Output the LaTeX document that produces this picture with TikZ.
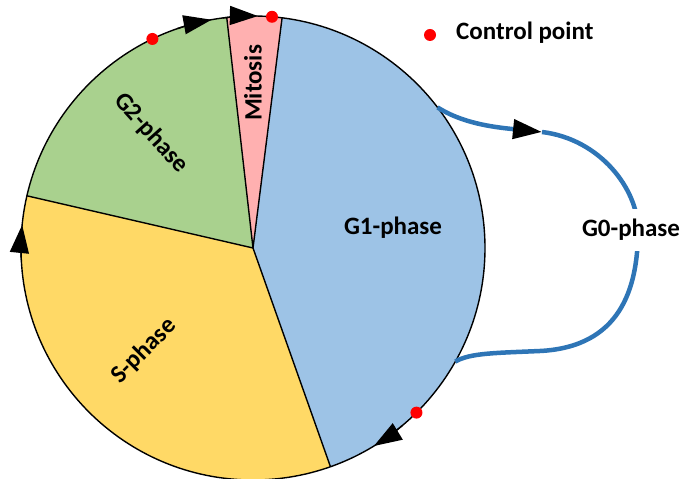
\documentclass[tikz,border=0pt]{standalone}
\usepackage{fontspec}
\setmainfont{Carlito}
\usetikzlibrary{arrows.meta,calc}
\definecolor{gonecol}{HTML}{9DC3E6}
\definecolor{gtwocol}{HTML}{A9D18E}
\definecolor{scol}{HTML}{FFD966}
\definecolor{mcol}{HTML}{FFB0B0}
\definecolor{gzerocol}{HTML}{2E75B6}
\definecolor{dotcol}{HTML}{FF0000}
\begin{document}
\begin{tikzpicture}[x=1pt,y=1pt,
  lbl/.style={font=\fontsize{25}{30}\selectfont\bfseries, inner sep=0pt},
  edge/.style={draw=black, line width=1.4pt, line join=round},
  circarrow/.style={draw=black, line width=1.4pt, -{Triangle[length=28pt,width=19pt]}},
  ctrl/.style={fill=dotcol},
  gzero/.style={draw=gzerocol, line width=4.5pt}]
\useasboundingbox (0,0) rectangle (683,479);
\def\R{232pt}
\coordinate (O) at (253,231);
\coordinate (bM1) at ($(O)+(82.8:\R)$);
\coordinate (bM2) at ($(O)+(96.5:\R)$);
\coordinate (bGS) at ($(O)+(167:\R)$);
\coordinate (bSG) at ($(O)+(-70.5:\R)$);
\coordinate (g0a) at ($(O)+(37.3:\R)$);
\coordinate (g0b) at ($(O)+(-29.3:\R)$);
\coordinate (g0tip) at (542,347);
% sectors
\fill[gonecol] (O) -- (bSG) arc[start angle=-70.5,end angle=82.8,radius=\R] -- cycle;
\fill[mcol] (O) -- (bM1) arc[start angle=82.8,end angle=96.5,radius=\R] -- cycle;
\fill[gtwocol] (O) -- (bM2) arc[start angle=96.5,end angle=167,radius=\R] -- cycle;
\fill[scol] (O) -- (bGS) arc[start angle=167,end angle=289.5,radius=\R] -- cycle;
\draw[edge] (bM1) -- (O) -- (bM2);
\draw[edge] (bGS) -- (O) -- (bSG);
\draw[edge] (O) circle[radius=\R];
% arrows on circle
\draw[circarrow] ($(O)+(109:\R)$) arc[start angle=109,end angle=100.3,radius=\R];
\draw[circarrow] ($(O)+(97.5:\R)$) arc[start angle=97.5,end angle=88.8,radius=\R];
\draw[circarrow] ($(O)+(183:\R)$) arc[start angle=183,end angle=174.3,radius=\R];
\draw[circarrow] ($(O)+(-50:\R)$) arc[start angle=-50,end angle=-58.6,radius=\R];
% control points
\fill[ctrl] ($(O)+(115.7:\R)$) circle[radius=6pt];
\fill[ctrl] ($(O)+(85.3:\R)$) circle[radius=6pt];
\fill[ctrl] ($(O)+(-45.2:\R)$) circle[radius=6pt];
% G0 loop
\draw[gzero, arrows={-{Triangle[length=29pt,width=19pt,color=black]}}]
  (g0a) .. controls (462,356) and (492,352) .. (g0tip);
\draw[gzero] (g0tip) .. controls (600,340) and (638,290) .. (638,249)
  .. controls (638,190) and (620,132) .. (540,128)
  .. controls (495,126) and (470,126) .. (g0b);
% labels
\node[lbl, fill=white, inner xsep=4pt, inner ysep=10pt] (g0) at (631,249) {G0-phase};
\node[lbl] (g1) at (393,251) {G1-phase};
\node[lbl, rotate=45] (s) at (144,128) {S-phase};
\node[lbl, rotate=-48] (g2) at (151,346) {G2-phase};
\node[lbl, rotate=90] (mit) at (253,396) {Mitosis};
\fill[ctrl] (430,444) circle[radius=6pt] coordinate (legdot);
\node[lbl, anchor=west] (leg) at (456,446) {Control point};
\end{tikzpicture}
\end{document}
